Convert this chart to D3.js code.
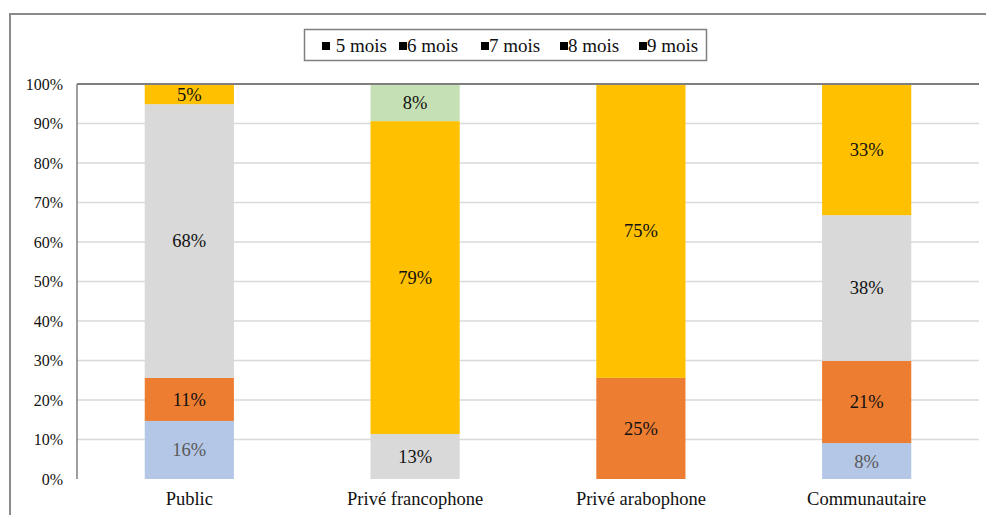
<!DOCTYPE html>
<html><head><meta charset="utf-8">
<script src="https://cdn.jsdelivr.net/npm/d3@7"></script>
<style>html,body{margin:0;padding:0;background:#fff;}svg{display:block;}</style>
</head><body>
<script>
const categories = ["Public", "Privé francophone", "Privé arabophone", "Communautaire"];
const seriesNames = ["5 mois", "6 mois", "7 mois", "8 mois", "9 mois"];
const colors = ["#B4C7E7", "#ED7D31", "#D9D9D9", "#FFC000", "#C5E0B4"];
// segment heights (share of bar, %)
const s5 = [14.7, 0, 0, 9.1];
const s6 = [10.9, 0, 25.6, 20.8];
const s7 = [69.3, 11.4, 0, 36.9];
const s8 = [5.1, 79.2, 74.4, 33.2];
const s9 = [0, 9.4, 0, 0];
// data labels as printed
const l5 = ["16%", "", "", "8%"];
const l6 = ["11%", "", "25%", "21%"];
const l7 = ["68%", "13%", "", "38%"];
const l8 = ["5%", "79%", "75%", "33%"];
const l9 = ["", "8%", "", ""];
const yTicks = [0, 10, 20, 30, 40, 50, 60, 70, 80, 90, 100];

const series = [s5, s6, s7, s8, s9];
const labels = [l5, l6, l7, l8, l9];

const W = 986, H = 515;
const svg = d3.select("body").append("svg").attr("width", W).attr("height", H);
const font = "'Liberation Serif', 'Times New Roman', serif";

// outer frame
svg.append("rect").attr("x", 10).attr("y", 14).attr("width", 1000).attr("height", 600)
  .attr("fill", "none").attr("stroke", "#8a8a8a").attr("stroke-width", 2);

const x = d3.scaleBand().domain(categories).range([77, 979]).paddingInner(0.605).paddingOuter(0.3);
const y = d3.scaleLinear().domain([0, 100]).range([479, 84]);

// gridlines
svg.append("g").selectAll("line").data(yTicks.filter(d => d > 0 && d < 100)).join("line")
  .attr("x1", 77).attr("x2", 979).attr("y1", d => y(d)).attr("y2", d => y(d))
  .attr("stroke", "#d9d9d9").attr("stroke-width", 1.5);

// stacked bars
const rows = categories.map((c, i) => {
  const o = { cat: c };
  seriesNames.forEach((s, k) => o[s] = series[k][i]);
  return o;
});
const stack = d3.stack().keys(seriesNames)(rows);
const gBars = svg.append("g");
stack.forEach((layer, k) => {
  gBars.append("g").attr("fill", colors[k]).selectAll("rect").data(layer).join("rect")
    .attr("x", d => x(d.data.cat)).attr("width", x.bandwidth())
    .attr("y", d => y(d[1])).attr("height", d => y(d[0]) - y(d[1]));
});
// labels
stack.forEach((layer, k) => {
  gBars.append("g").selectAll("text").data(layer).join("text")
    .filter((d, i) => labels[k][i] !== "")
    .attr("x", d => x(d.data.cat) + x.bandwidth() / 2)
    .attr("y", d => (y(d[0]) + y(d[1])) / 2)
    .attr("dy", "0.35em").attr("text-anchor", "middle")
    .attr("font-family", font).attr("font-size", 18.5)
    .attr("fill", k === 0 ? "#595959" : "#111")
    .text((d, i) => labels[k][categories.indexOf(d.data.cat)]);
});

// top border & left axis line
svg.append("line").attr("x1", 77).attr("x2", 979).attr("y1", y(100)).attr("y2", y(100))
  .attr("stroke", "#7f7f7f").attr("stroke-width", 2);
svg.append("line").attr("x1", 77).attr("x2", 77).attr("y1", y(100)).attr("y2", y(0))
  .attr("stroke", "#7f7f7f").attr("stroke-width", 1.5);

// y axis labels
const yAxis = d3.axisLeft(y).tickValues(yTicks).tickFormat(d => d + "%").tickSize(0).tickPadding(14);
const gy = svg.append("g").attr("transform", "translate(77,0)").call(yAxis);
gy.select(".domain").remove();
gy.selectAll("text").attr("font-family", font).attr("font-size", 16).attr("fill", "#111");

// x axis labels
const xAxis = d3.axisBottom(x).tickSize(0).tickPadding(13);
const gx = svg.append("g").attr("transform", "translate(0,479)").call(xAxis);
gx.select(".domain").remove();
gx.selectAll("text").attr("font-family", font).attr("font-size", 18.5).attr("fill", "#111");

// legend
const lg = svg.append("g");
lg.append("rect").attr("x", 304.5).attr("y", 29.5).attr("width", 402).attr("height", 31)
  .attr("fill", "#fff").attr("stroke", "#7f7f7f").attr("stroke-width", 1.5);
const legX = [322, 399, 481, 560, 639];
seriesNames.forEach((s, k) => {
  lg.append("rect").attr("x", legX[k]).attr("y", 42).attr("width", 8).attr("height", 8).attr("fill", "#000");
  lg.append("text").attr("x", legX[k] + (k === 0 ? 9 : 8)).attr("y", 52)
    .attr("font-family", font).attr("font-size", 19).attr("fill", "#111")
    .text((k === 0 ? " " : "") + s).attr("xml:space", "preserve");
});
</script>
</body></html>
